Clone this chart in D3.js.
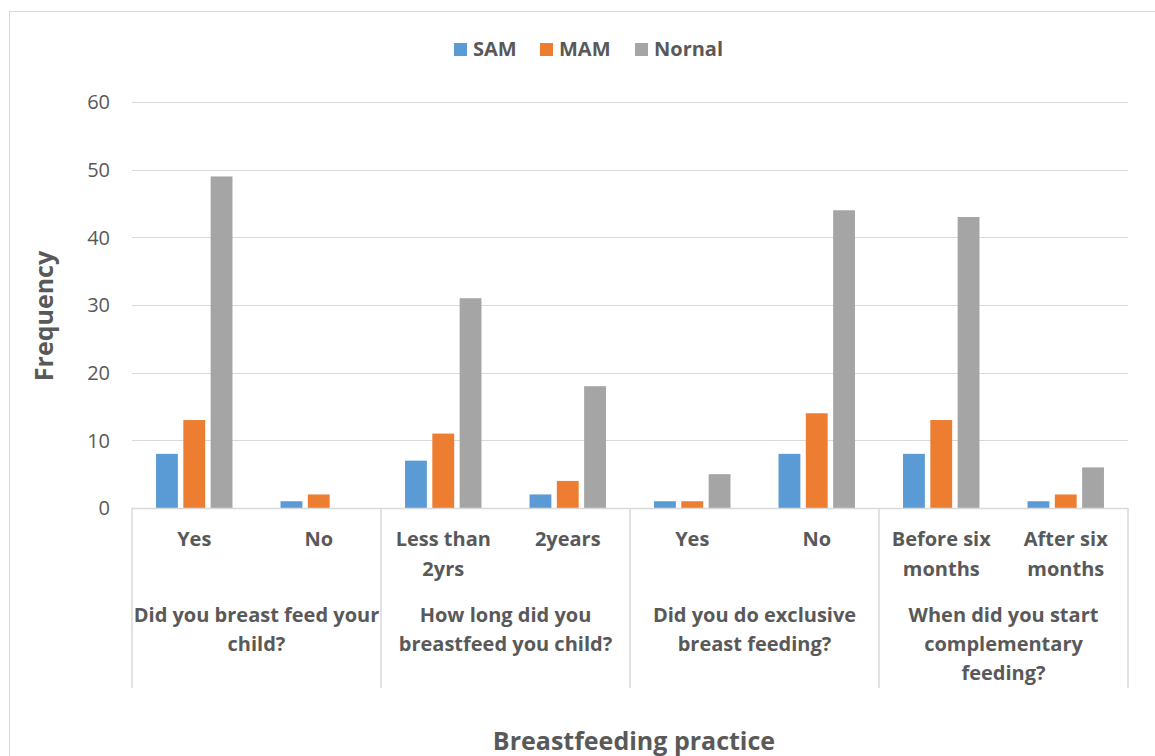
<!DOCTYPE html>
<html>
<head>
<meta charset="utf-8">
<script src="https://cdn.jsdelivr.net/npm/d3@7"></script>
<style>
  body { margin: 0; background: #fff; }
  svg { font-family: "Open Sans", Lato, sans-serif; }
</style>
</head>
<body>
<svg></svg>
<script>
// категории и группы
const categories = ["Yes", "No", "Less than|2yrs", "2years", "Yes ", "No ", "Before six|months", "After six|months"];
const groups = ["Did you breast feed your|child?", "How long did you|breastfeed you child?", "Did you do exclusive|breast feeding?", "When did you start|complementary|feeding?"];
const series = ["SAM", "MAM", "Nornal"];
const sam = [8, 1, 7, 2, 1, 8, 8, 1];
const mam = [13, 2, 11, 4, 1, 14, 13, 2];
const normal = [49, 0, 31, 18, 5, 44, 43, 6];
const yTicks = [0, 10, 20, 30, 40, 50, 60];
const colors = ["#5b9bd5", "#ed7d31", "#a5a5a5"];

document.addEventListener("DOMContentLoaded", function() {
    const width = 1155;
    const height = 756;
    const svg = d3.select("svg")
        .attr("width", width)
        .attr("height", height);

    const left = 132, right = 1128, top = 102, bottom = 508;
    const values = [sam, mam, normal];

    // рамка
    svg.append("rect")
        .attr("x", 9.5).attr("y", 11.5)
        .attr("width", 1160).attr("height", 760)
        .attr("fill", "none").attr("stroke", "#d9d9d9");

    const y = d3.scaleLinear().domain([0, 60]).range([bottom, top]);
    const x0 = d3.scaleBand().domain(d3.range(categories.length)).range([left, right]);
    const x1 = d3.scaleBand().domain(series).range([0, x0.bandwidth()])
        .paddingInner(0.2).paddingOuter(0.88);

    // сетка
    svg.append("g").selectAll("line")
        .data(yTicks.filter(d => d > 0))
        .join("line")
        .attr("x1", left).attr("x2", right)
        .attr("y1", d => Math.round(y(d)) + 0.5).attr("y2", d => Math.round(y(d)) + 0.5)
        .attr("stroke", "#d9d9d9").attr("stroke-width", 1);

    // подписи оси y
    svg.append("g").selectAll("text")
        .data(yTicks)
        .join("text")
        .attr("x", 110).attr("y", d => y(d))
        .attr("dy", "0.36em")
        .attr("text-anchor", "end")
        .attr("font-size", 20)
        .attr("fill", "#595959")
        .text(d => d);

    // столбцы
    series.forEach((s, si) => {
        svg.append("g").selectAll("rect")
            .data(values[si])
            .join("rect")
            .attr("x", (d, i) => x0(i) + x1(s))
            .attr("y", d => y(d))
            .attr("width", x1.bandwidth())
            .attr("height", d => y(0) - y(d))
            .attr("fill", colors[si]);
    });

    // ось x и разделители
    svg.append("line")
        .attr("x1", left).attr("x2", right)
        .attr("y1", bottom + 0.5).attr("y2", bottom + 0.5)
        .attr("stroke", "#d9d9d9").attr("stroke-width", 1.5);

    const groupW = x0.bandwidth() * 2;
    svg.append("g").selectAll("line")
        .data(d3.range(groups.length + 1))
        .join("line")
        .attr("x1", d => left + d * groupW).attr("x2", d => left + d * groupW)
        .attr("y1", bottom).attr("y2", 688)
        .attr("stroke", "#d9d9d9").attr("stroke-width", 1.5);

    // подписи категорий
    const catText = svg.append("g").selectAll("text")
        .data(categories)
        .join("text")
        .attr("text-anchor", "middle")
        .attr("font-size", 20)
        .attr("font-weight", "bold")
        .attr("fill", "#595959");
    catText.each(function(d, i) {
        const lines = d.trim().split("|");
        d3.select(this).selectAll("tspan")
            .data(lines)
            .join("tspan")
            .attr("x", x0(i) + x0.bandwidth() / 2)
            .attr("y", (l, k) => 546 + k * 29.5)
            .text(l => l);
    });

    // подписи групп
    const grpText = svg.append("g").selectAll("text")
        .data(groups)
        .join("text")
        .attr("text-anchor", "middle")
        .attr("font-size", 20)
        .attr("font-weight", "bold")
        .attr("fill", "#595959");
    grpText.each(function(d, i) {
        const lines = d.split("|");
        d3.select(this).selectAll("tspan")
            .data(lines)
            .join("tspan")
            .attr("x", left + i * groupW + groupW / 2)
            .attr("y", (l, k) => 622 + k * 29)
            .text(l => l);
    });

    // названия осей
    svg.append("text")
        .attr("transform", "translate(53,316) rotate(-90)")
        .attr("text-anchor", "middle")
        .attr("font-size", 25)
        .attr("font-weight", "bold")
        .attr("fill", "#595959")
        .text("Frequency");

    svg.append("text")
        .attr("x", 634).attr("y", 750)
        .attr("text-anchor", "middle")
        .attr("font-size", 25)
        .attr("font-weight", "bold")
        .attr("fill", "#595959")
        .text("Breastfeeding practice");

    // легенда
    const legX = [454, 540, 635];
    const leg = svg.append("g").selectAll("g")
        .data(series)
        .join("g")
        .attr("transform", (d, i) => `translate(${legX[i]},43)`);
    leg.append("rect")
        .attr("width", 13).attr("height", 13)
        .attr("fill", (d, i) => colors[i]);
    leg.append("text")
        .attr("x", 19).attr("y", 13)
        .attr("font-size", 20)
        .attr("font-weight", "bold")
        .attr("fill", "#595959")
        .text(d => d);
});
</script>
</body>
</html>
